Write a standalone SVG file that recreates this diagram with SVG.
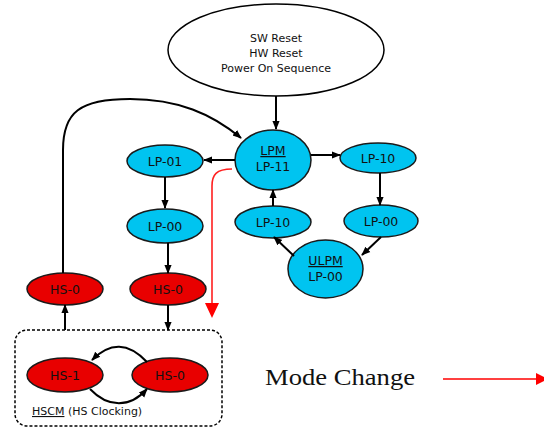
<svg xmlns="http://www.w3.org/2000/svg" width="544" height="428" viewBox="0 0 544 428">
<style>
.lp{fill:#00c4f0;stroke:#1a1a1a;stroke-width:1.5}
.hs{fill:#e80000;stroke:#1a1a1a;stroke-width:1.5}
.t{font-family:"DejaVu Sans",sans-serif;font-size:12.5px;fill:#111;text-anchor:middle}
.ts{font-family:"DejaVu Sans",sans-serif;font-size:11px;fill:#111;text-anchor:middle}
.c{fill:none;stroke:#000;stroke-width:2}
</style>
<defs>
<marker id="ah" viewBox="0 0 10 10" refX="9" refY="5" markerWidth="4.5" markerHeight="4.5" orient="auto-start-reverse" markerUnits="strokeWidth">
<path d="M0,1 L10,5 L0,9 z" fill="#000"/>
</marker>
</defs>
<rect width="544" height="428" fill="#fff"/>

<g id="reset">
<ellipse cx="276" cy="50" rx="108" ry="46" fill="#fff" stroke="#000" stroke-width="1.5"/>
<text class="ts" x="276" y="42">SW Reset</text>
<text class="ts" x="276" y="57">HW Reset</text>
<text class="ts" x="276" y="72">Power On Sequence</text>
</g>

<g id="lpm">
<ellipse class="lp" cx="273" cy="160" rx="38" ry="30"/>
<text class="t" x="273" y="155" text-decoration="underline">LPM</text>
<text class="t" x="273" y="171">LP-11</text>
</g>

<g id="lp01">
<ellipse class="lp" cx="165" cy="161" rx="38" ry="16"/>
<text class="t" x="165" y="166">LP-01</text>
</g>

<g id="lp00l">
<ellipse class="lp" cx="165" cy="226" rx="38" ry="17"/>
<text class="t" x="165" y="231">LP-00</text>
</g>

<g id="lp10r">
<ellipse class="lp" cx="378" cy="158" rx="38" ry="15"/>
<text class="t" x="378" y="163">LP-10</text>
</g>

<g id="lp00r">
<ellipse class="lp" cx="381" cy="221" rx="37" ry="16"/>
<text class="t" x="381" y="226">LP-00</text>
</g>

<g id="lp10m">
<ellipse class="lp" cx="273" cy="222" rx="38" ry="16"/>
<text class="t" x="273" y="227">LP-10</text>
</g>

<g id="ulpm">
<ellipse class="lp" cx="325.5" cy="269" rx="37.5" ry="29"/>
<text class="t" x="325.5" y="265" text-decoration="underline">ULPM</text>
<text class="t" x="325.5" y="281">LP-00</text>
</g>

<g id="hs0l">
<ellipse class="hs" cx="65" cy="289" rx="38" ry="16"/>
<text class="t" x="65" y="294">HS-0</text>
</g>

<g id="hs0r">
<ellipse class="hs" cx="168" cy="289" rx="38" ry="16"/>
<text class="t" x="168" y="294">HS-0</text>
</g>

<g id="hscm">
<rect x="15" y="330" width="207" height="96" rx="12" fill="none" stroke="#000" stroke-width="1.5" stroke-dasharray="3,2"/>
<text font-family="DejaVu Sans, sans-serif" font-size="11" fill="#111" x="32" y="415"><tspan text-decoration="underline">HSCM</tspan> (HS Clocking)</text>
</g>

<g id="hs1">
<ellipse class="hs" cx="65" cy="375" rx="38" ry="17"/>
<text class="t" x="65" y="380">HS-1</text>
</g>

<g id="hs0b">
<ellipse class="hs" cx="170" cy="375" rx="38" ry="17"/>
<text class="t" x="170" y="380">HS-0</text>
</g>

<g id="connectors">
<line class="c" x1="276" y1="96" x2="276" y2="129" marker-end="url(#ah)"/>
<line class="c" x1="235" y1="160" x2="204" y2="160" marker-end="url(#ah)"/>
<line class="c" x1="311" y1="155" x2="340" y2="155" marker-end="url(#ah)"/>
<line class="c" x1="165" y1="177" x2="165" y2="208" marker-end="url(#ah)"/>
<line class="c" x1="380" y1="173" x2="380" y2="205" marker-end="url(#ah)"/>
<line class="c" x1="273" y1="206" x2="273" y2="190" marker-end="url(#ah)"/>
<line class="c" x1="381" y1="237" x2="362" y2="255" marker-end="url(#ah)"/>
<line class="c" x1="294" y1="256" x2="274" y2="237" marker-end="url(#ah)"/>
<path class="c" d="M63,273 L63,150 C63,112 80,99 130,99 C178,99 212,114 241,138" marker-end="url(#ah)"/>
<line class="c" x1="168" y1="243" x2="168" y2="273" marker-end="url(#ah)"/>
<line class="c" x1="65" y1="330" x2="65" y2="305" marker-end="url(#ah)"/>
<line class="c" x1="168" y1="305" x2="168" y2="330" marker-end="url(#ah)"/>
<path class="c" d="M147,362 C128,342 110,342 92,360" marker-end="url(#ah)"/>
<path class="c" d="M90,389 C108,408 130,408 147,389" marker-end="url(#ah)"/>
<path d="M232,169 C216,169 212,175 212,186 L212,304" fill="none" stroke="#ff2020" stroke-width="1.6"/>
<polygon points="205,303 219,303 212,318" fill="#ff0000"/>
<line x1="443" y1="379" x2="538" y2="379" stroke="#ff4040" stroke-width="2"/>
<polygon points="536,373 548,379 536,385" fill="#ff0000"/>
</g>

<text font-family="Liberation Serif, serif" font-size="23" fill="#111" x="265" y="385" textLength="150" lengthAdjust="spacingAndGlyphs">Mode Change</text>
</svg>
